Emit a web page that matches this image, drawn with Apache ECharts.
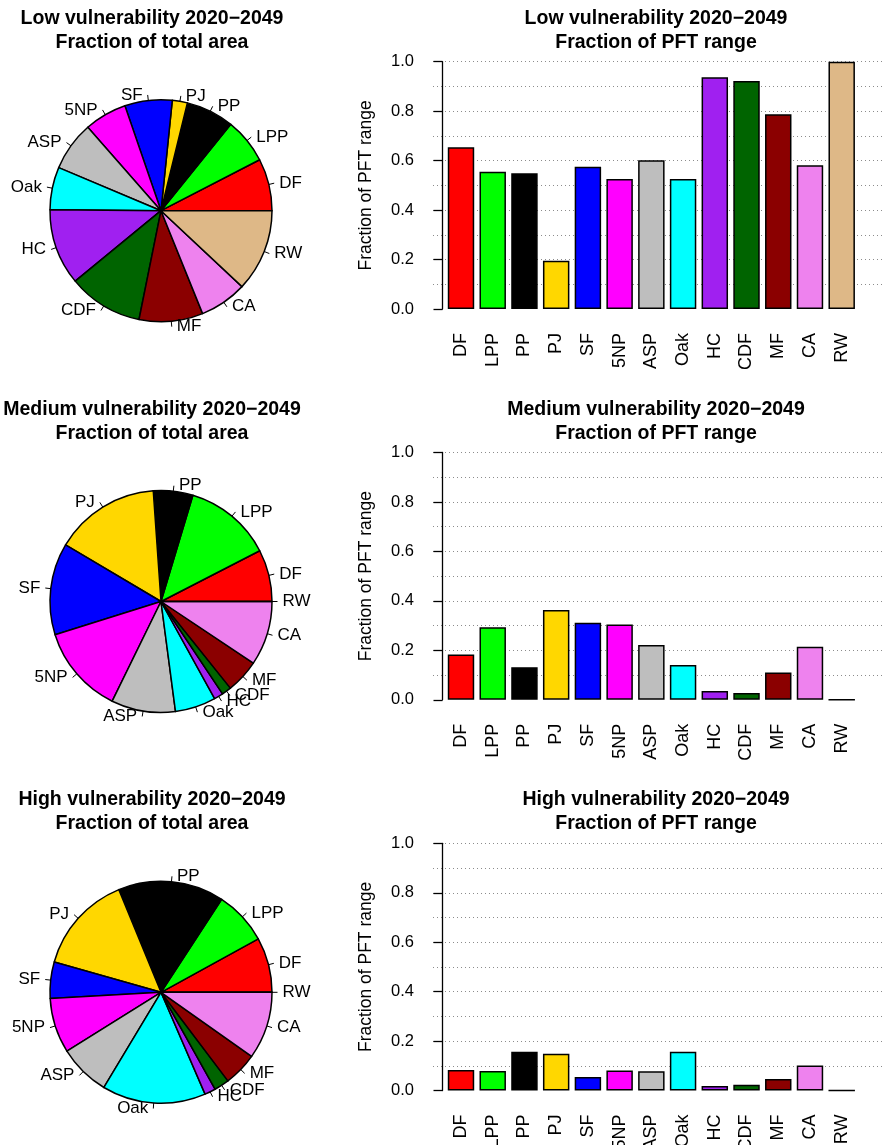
<!DOCTYPE html>
<html>
<head>
<meta charset="utf-8">
<title>PFT vulnerability 2020−2049</title>
<script src="https://cdn.jsdelivr.net/npm/echarts@6/dist/echarts.min.js"></script>
<style>
  html, body { margin: 0; padding: 0; background: #ffffff; }
  #chart { width: 883px; height: 1145px; }
</style>
</head>
<body>
<div id="chart"></div>
<script>
// Plant functional types, in plotting order
const pftNames = ['DF', 'LPP', 'PP', 'PJ', 'SF', '5NP', 'ASP', 'Oak', 'HC', 'CDF', 'MF', 'CA', 'RW'];
const pftColors = ['#FF0000', '#00FF00', '#000000', '#FFD700', '#0000FF', '#FF00FF', '#BEBEBE',
                   '#00FFFF', '#A020F0', '#006400', '#8B0000', '#EE82EE', '#DEB887'];

// Vulnerability classes
const classNames = ['Low vulnerability', 'Medium vulnerability', 'High vulnerability'];
const periodLabel = '2020\u22122049';

// Fraction of total area of each class occupied by each PFT
const areaLow    = [0.076, 0.066, 0.070, 0.022, 0.069, 0.062, 0.072, 0.062, 0.111, 0.109, 0.093, 0.069, 0.120];
const areaMedium = [0.0756, 0.128, 0.0575, 0.1536, 0.1336, 0.1292, 0.0933, 0.0594, 0.0133, 0.0139, 0.0489, 0.0936, 0];
const areaHigh   = [0.080, 0.078, 0.154, 0.144, 0.053, 0.080, 0.075, 0.151, 0.016, 0.022, 0.049, 0.098, 0];

// Fraction of each PFT's range falling in the class
const rangeLow    = [0.654, 0.555, 0.549, 0.195, 0.575, 0.526, 0.602, 0.526, 0.937, 0.922, 0.788, 0.581, 1.000];
const rangeMedium = [0.183, 0.293, 0.132, 0.363, 0.312, 0.304, 0.222, 0.141, 0.036, 0.027, 0.110, 0.215, 0];
const rangeHigh   = [0.083, 0.079, 0.157, 0.149, 0.055, 0.081, 0.078, 0.157, 0.019, 0.024, 0.047, 0.101, 0];

// Y axis ticks
const yTickValues = [0, 0.2, 0.4, 0.6, 0.8, 1.0];
const yGridStep = 0.1;

const areaSets = [areaLow, areaMedium, areaHigh];
const rangeSets = [rangeLow, rangeMedium, rangeHigh];

// ---- layout ----
const FONT = "'Liberation Sans', Arial, Helvetica, sans-serif";
const rowStep = 390.8;
const pieCx = 161, pieCy0 = 210.7, pieR = 111;
const pieTitleX = 152, barTitleX = 656, titleY0 = 30.5;
const gridLeft = 433, gridTop0 = 61.7, gridHeight = 247.3;
// barplot layout: bar width 1, gap 0.2 (units of the x scale)
const barUnit = 1, barGap = 0.2;
const xMin = -0.359, xMax = 16.662;
const barPx = 26.44;
const tickSize = 16.5, labelSize = 17, nameSize = 17.5;
const gridGray = '#8c8c8c';

function barCenter(i) { return barGap + barUnit / 2 + i * (barUnit + barGap); }
const barPositions = pftNames.map((_, i) => barCenter(i));

const chart = echarts.init(document.getElementById('chart'), null, { renderer: 'canvas' });

const grids = [], xAxes = [], yAxes = [], series = [], graphics = [];

classNames.forEach((cls, r) => {
  const off = r * rowStep;

  // titles
  graphics.push({
    type: 'text', silent: true,
    style: {
      text: cls + ' ' + periodLabel + '\nFraction of total area',
      x: pieTitleX, y: titleY0 + off, align: 'center', verticalAlign: 'middle',
      font: 'bold 19.5px ' + FONT, lineHeight: 24, fill: '#000'
    }
  });
  graphics.push({
    type: 'text', silent: true,
    style: {
      text: cls + ' ' + periodLabel + '\nFraction of PFT range',
      x: barTitleX, y: titleY0 + off, align: 'center', verticalAlign: 'middle',
      font: 'bold 19.5px ' + FONT, lineHeight: 24, fill: '#000'
    }
  });

  // pie: fraction of total area
  series.push({
    type: 'pie',
    silent: true,
    center: [pieCx, pieCy0 + off],
    radius: pieR,
    startAngle: 0,
    clockwise: false,
    avoidLabelOverlap: false,
    minShowLabelAngle: 0,
    itemStyle: { borderColor: '#000', borderWidth: 1.5 },
    label: {
      show: true, position: 'outside', formatter: '{b}', color: '#000',
      fontSize: labelSize, fontFamily: FONT, distanceToLabelLine: 5
    },
    labelLayout: { hideOverlap: false },
    labelLine: { show: true, length: 5.5, length2: 0, smooth: false, lineStyle: { color: '#000', width: 1 } },
    emphasis: { disabled: true },
    data: pftNames.map((n, i) => ({ name: n, value: areaSets[r][i], itemStyle: { color: pftColors[i] } }))
  });

  // bar chart: fraction of PFT range
  grids.push({
    left: gridLeft, right: 0, top: gridTop0 + off, height: gridHeight,
    containLabel: false, outerBoundsMode: 'none'
  });
  xAxes.push({
    type: 'value', gridIndex: r, min: xMin, max: xMax,
    axisLine: { show: false }, axisTick: { show: false }, splitLine: { show: false },
    axisLabel: {
      customValues: barPositions,
      formatter: v => pftNames[Math.round((v - barCenter(0)) / (barUnit + barGap))] || '',
      rotate: 90, margin: 24, fontSize: 18, fontFamily: FONT, color: '#000',
      hideOverlap: false
    }
  });
  yAxes.push({
    type: 'value', gridIndex: r, min: yTickValues[0], max: yTickValues[yTickValues.length - 1],
    interval: yTickValues[1] - yTickValues[0],
    name: 'Fraction of PFT range', nameLocation: 'middle', nameRotate: 90, nameGap: 58,
    nameTextStyle: { fontSize: nameSize, fontFamily: FONT, color: '#000' },
    axisLine: { show: true, lineStyle: { color: '#000', width: 1.3 } },
    axisTick: { show: true, inside: false, length: 9, lineStyle: { color: '#000', width: 1.3 } },
    axisLabel: { formatter: v => v.toFixed(1), margin: 19, fontSize: tickSize, fontFamily: FONT, color: '#000' },
    splitLine: {
      show: true,
      lineStyle: { color: ['rgba(0,0,0,0)', gridGray, gridGray, gridGray, gridGray, gridGray], type: [1, 3], width: 1 }
    },
    minorTick: { show: false, splitNumber: Math.round((yTickValues[1] - yTickValues[0]) / yGridStep) },
    minorSplitLine: { show: true, lineStyle: { color: gridGray, type: [1, 3], width: 1 } }
  });
  series.push({
    type: 'bar', xAxisIndex: r, yAxisIndex: r, barWidth: barPx, silent: true,
    itemStyle: { borderColor: '#000', borderWidth: 1.5 },
    emphasis: { disabled: true },
    data: rangeSets[r].map((v, i) => ({ value: [barPositions[i], v], itemStyle: { color: pftColors[i] } }))
  });
});

chart.setOption({
  animation: false,
  backgroundColor: '#ffffff',
  textStyle: { fontFamily: FONT },
  grid: grids,
  xAxis: xAxes,
  yAxis: yAxes,
  series: series,
  graphic: graphics
});
</script>
</body>
</html>
